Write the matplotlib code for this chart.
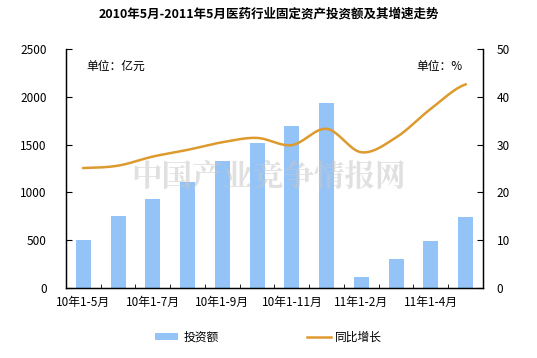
import numpy as np
import matplotlib
matplotlib.use("Agg")
import matplotlib.pyplot as plt

plt.rcParams['font.family'] = ['Noto Sans CJK SC', 'DejaVu Sans']

categories = ['10年1-5月', '10年1-6月', '10年1-7月', '10年1-8月', '10年1-9月', '10年1-10月',
              '10年1-11月', '10年1-12月', '11年1-2月', '11年1-3月', '11年1-4月', '11年1-5月']
investment = [500, 753, 928, 1105, 1326, 1512, 1698, 1932, 115, 302, 490, 740]
growth = [25.1, 25.6, 27.5, 28.9, 30.5, 31.4, 29.9, 33.3, 28.4, 31.5, 37.5, 42.6]


def smooth(y, n=20):
    # Catmull-Rom curve through the points, like the smoothed line in Excel
    y = np.asarray(y, dtype=float)
    p = np.concatenate([[y[0]], y, [y[-1]]])
    xs, ys = [], []
    for i in range(len(y) - 1):
        p0, p1, p2, p3 = p[i], p[i + 1], p[i + 2], p[i + 3]
        t = np.linspace(0, 1, n, endpoint=False)
        seg = 0.5 * ((2 * p1) + (-p0 + p2) * t + (2 * p0 - 5 * p1 + 4 * p2 - p3) * t ** 2
                     + (-p0 + 3 * p1 - 3 * p2 + p3) * t ** 3)
        xs.append(i + t)
        ys.append(seg)
    xs.append([len(y) - 1])
    ys.append([y[-1]])
    return np.concatenate(xs), np.concatenate(ys)


fig = plt.figure(figsize=(5.37, 3.58), dpi=100)
ax = fig.add_axes([0.1229, 0.1955, 0.7765, 0.6676])
ax2 = ax.twinx()

# watermark
fig.text(0.50, 0.505, '中国产业竞争情报网', fontsize=22, fontweight='bold', color='#C8C8C8',
         alpha=0.55, ha='center', va='center', zorder=0,
         family=['Noto Serif CJK SC', 'Noto Sans CJK SC'])

x = np.arange(len(categories))
bars = ax.bar(x, investment, width=0.43, color='#93C3F7', zorder=2, label='投资额')
sx, sy = smooth(growth)
line, = ax2.plot(sx, sy, color='#DD9A2E', lw=1.8, zorder=3, label='同比增长')

ax.set_xlim(-0.5, len(categories) - 0.5)
ax.set_ylim(0, 2500)
ax.set_yticks(range(0, 2501, 500))
ax2.set_ylim(0, 50)
ax2.set_yticks(range(0, 51, 10))

ax.set_xticks(x[::2])
ax.set_xticklabels(categories[::2], fontsize=8.5)
ax.set_xticks(np.arange(-0.5, len(categories), 1), minor=True)
ax.tick_params(axis='x', which='major', length=0, pad=6)
ax.tick_params(axis='x', which='minor', direction='in', length=3)
ax.tick_params(axis='y', direction='in', length=4, labelsize=8.5, pad=14)
ax2.tick_params(axis='y', direction='in', length=4, labelsize=8.5, pad=10)

for a in (ax, ax2):
    a.spines['top'].set_visible(False)
    for s in ('left', 'right', 'bottom'):
        a.spines[s].set_linewidth(0.9)
ax.patch.set_visible(False)

ax.text(0.05, 0.955, '单位：亿元', transform=ax.transAxes, fontsize=8.5, va='top')
ax2.text(0.95, 0.955, '单位：%', transform=ax.transAxes, fontsize=8.5, va='top', ha='right')

fig.suptitle('2010年5月-2011年5月医药行业固定资产投资额及其增速走势', x=0.5, y=0.978,
             fontsize=9, fontweight='bold')

fig.legend([bars, line], ['投资额', '同比增长'], loc='lower center', bbox_to_anchor=(0.5, 0.01),
           ncol=2, frameon=False, fontsize=8.5, columnspacing=7.5, handlelength=2.0,
           handleheight=0.5, handletextpad=0.4)

fig.savefig('out.png', dpi=100)
